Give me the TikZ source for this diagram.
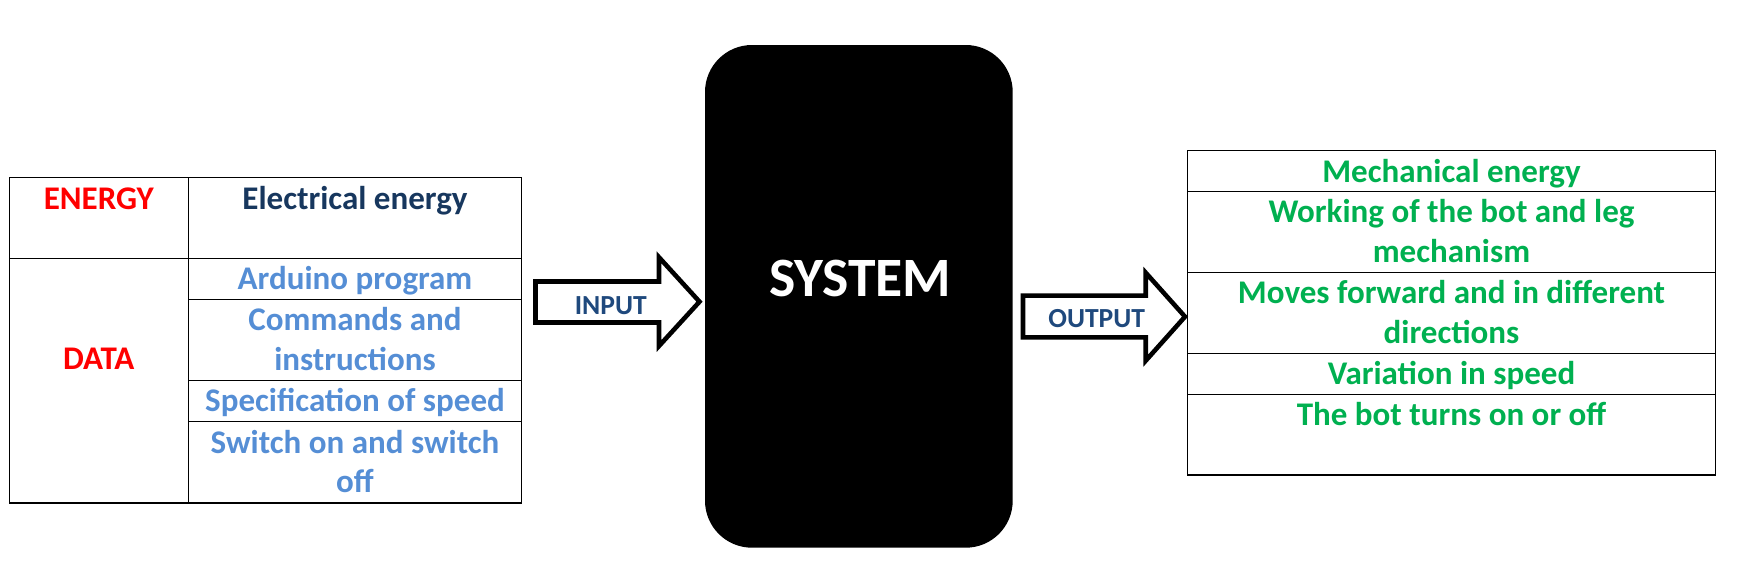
\documentclass[tikz,border=0pt]{standalone}
\usepackage{fontspec}
\setmainfont{Carlito}
\usepackage{xcolor}

\definecolor{energyred}{HTML}{FF0000}
\definecolor{navytext}{HTML}{17375E}
\definecolor{datablue}{HTML}{558ED5}
\definecolor{outgreen}{HTML}{00B050}
\definecolor{arrowtext}{HTML}{1F497D}

\tikzset{
  cell/.style={line width=0.75pt},
  celltext/.style={anchor=base, inner sep=0pt, font=\fontsize{18.8}{22.6}\selectfont\bfseries},
  blockarrow/.style={line width=2.6pt, fill=white, line join=miter},
  arrowlabel/.style={anchor=base, inner sep=0pt, text=arrowtext, font=\fontsize{15.7}{18.8}\selectfont\bfseries},
}

\begin{document}
\begin{tikzpicture}[x=0.2mm,y=-0.2mm]
            \useasboundingbox (0,0) rectangle (1739,565);

            % Draw the input table
            \draw[cell] (9.3,177.3) rectangle (521.5,503);
            \draw[cell] (188.3,177.3) -- (188.3,503);
            \draw[cell] (9.3,258.3) -- (521.5,258.3);
            \draw[cell] (188.3,299.3) -- (521.5,299.3);
            \draw[cell] (188.3,380.6) -- (521.5,380.6);
            \draw[cell] (188.3,421.8) -- (521.5,421.8);

            % Input table texts
            \node[celltext, text=energyred] (energy) at (98.8,209.3) {ENERGY};
            \node[celltext, text=navytext] (elec) at (355,209.3) {Electrical energy};
            \node[celltext, text=energyred] (data) at (98.8,369.3) {DATA};
            \node[celltext, text=datablue] (arduino) at (355,289.5) {Arduino program};
            \node[celltext, text=datablue] (cmdA) at (355,330.7) {Commands and};
            \node[celltext, text=datablue] (cmdB) at (355,370.7) {instructions};
            \node[celltext, text=datablue] (speed) at (355,411.5) {Specification of speed};
            \node[celltext, text=datablue] (switchA) at (355,453) {Switch on and switch};
            \node[celltext, text=datablue] (switchB) at (355,492) {off};

            % Draw the input arrow
            \draw[blockarrow] (535.5,281.5) -- (659,281.5) -- (659,257.3) -- (699.5,301.7)
              -- (659,346) -- (659,322.5) -- (535.5,322.5) -- cycle;
            \node[arrowlabel] (input) at (610.8,314) {INPUT};

            % Draw the system block
            \fill[black, rounded corners=9.4mm] (705,45) rectangle (1012.7,547.7);
            \node[anchor=base, inner sep=0pt, text=white, font=\fontsize{31.6}{36}\selectfont\bfseries] (system) at (860.3,296.7) {SYSTEM};

            % Draw the output arrow
            \draw[blockarrow] (1023,295.7) -- (1145.7,295.7) -- (1145.7,272.7) -- (1185,316.7)
              -- (1145.7,360.7) -- (1145.7,337.3) -- (1023,337.3) -- cycle;
            \node[arrowlabel] (output) at (1096.7,327.3) {OUTPUT};

            % Draw the output table
            \draw[cell] (1187.5,150.7) rectangle (1715.6,475);
            \draw[cell] (1187.5,191.7) -- (1715.6,191.7);
            \draw[cell] (1187.5,272.3) -- (1715.6,272.3);
            \draw[cell] (1187.5,353.3) -- (1715.6,353.3);
            \draw[cell] (1187.5,394.3) -- (1715.6,394.3);

            % Output table texts
            \node[celltext, text=outgreen] (mech) at (1451.5,182.3) {Mechanical energy};
            \node[celltext, text=outgreen] (workA) at (1451.5,222.7) {Working of the bot and leg};
            \node[celltext, text=outgreen] (workB) at (1451.5,262.7) {mechanism};
            \node[celltext, text=outgreen] (moveA) at (1451.5,303.3) {Moves forward and in different};
            \node[celltext, text=outgreen] (moveB) at (1451.5,343.3) {directions};
            \node[celltext, text=outgreen] (vary) at (1451.5,384.3) {Variation in speed};
            \node[celltext, text=outgreen] (onoff) at (1451.5,425) {The bot turns on or off};
        \end{tikzpicture}
\end{document}
